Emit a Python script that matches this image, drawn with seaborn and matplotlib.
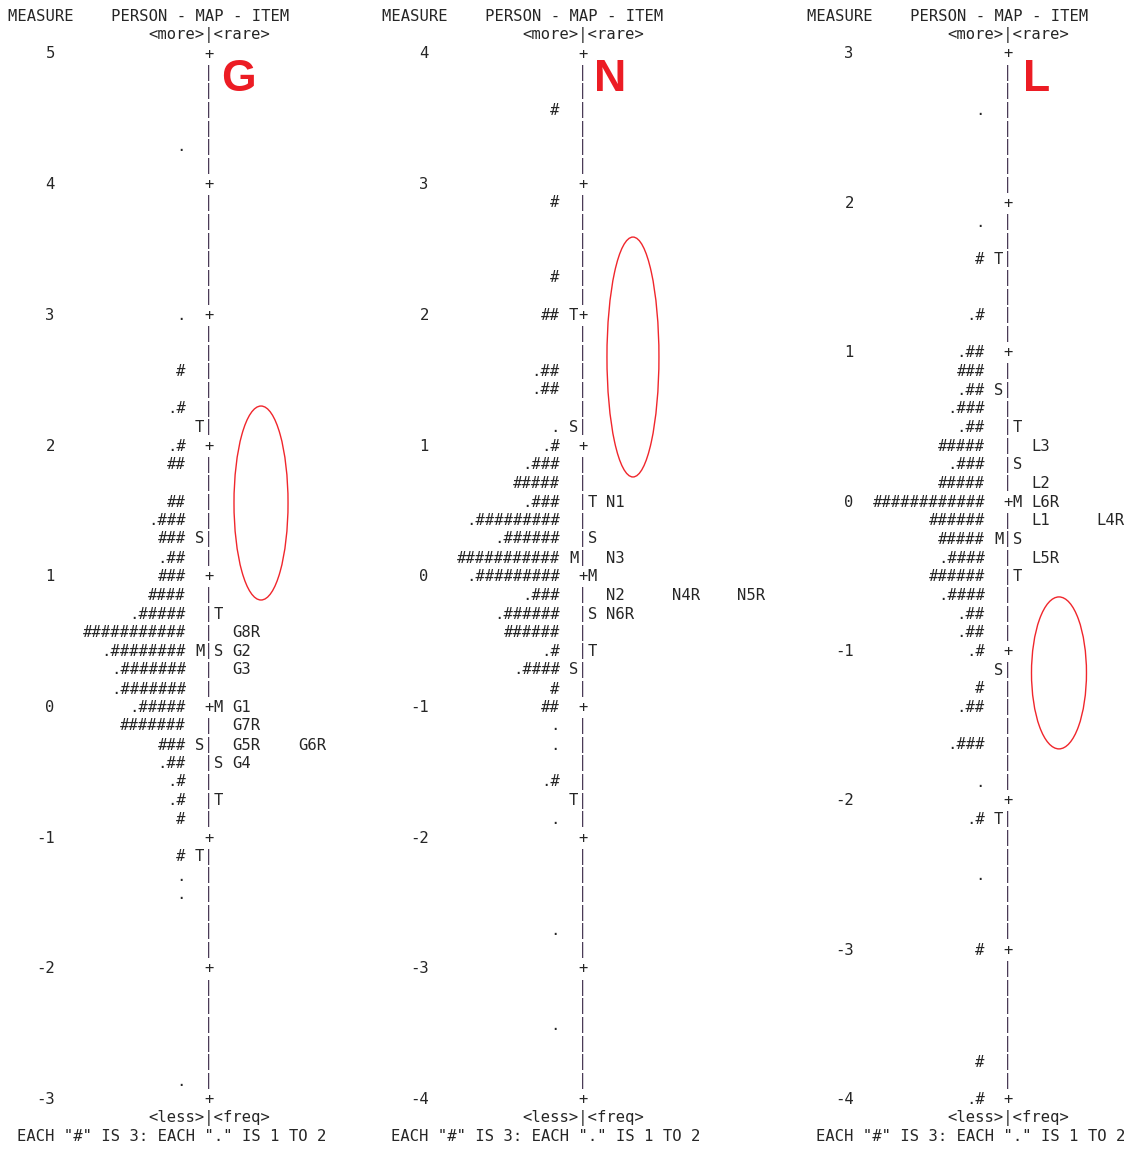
import numpy as np
import matplotlib
matplotlib.use("Agg")
import matplotlib.pyplot as plt
from matplotlib.patches import Ellipse
import seaborn as sns

# ---------------- data: person distributions and item locations ----------------
# Each person row: measure of the row, number of "#" (3 persons each), "." flag (1-2 persons)

# Panel G  (scale 5 .. -3, 7 rows per logit)
g_person_measure = [4.29, 3.00, 2.57, 2.29, 2.00, 1.86, 1.57, 1.43, 1.29, 1.14, 1.00, 0.86,
                    0.71, 0.57, 0.43, 0.29, 0.14, 0.00, -0.14, -0.29, -0.43, -0.57, -0.71,
                    -0.86, -1.14, -1.29, -1.43, -2.86]
g_person_hash = [0, 0, 1, 1, 1, 2, 2, 3, 3, 2, 3, 4, 5, 11, 8, 7, 7, 5, 7, 3, 2, 1, 1, 1, 1, 0, 0, 0]
g_person_dot = [1, 1, 0, 1, 1, 0, 0, 1, 0, 1, 0, 0, 1, 0, 1, 1, 1, 1, 0, 0, 1, 1, 1, 0, 0, 1, 1, 1]
g_person_mark_measure = [2.14, 1.29, 0.43, -0.29, -1.14]
g_item_mark_measure = [0.71, 0.43, 0.00, -0.43, -0.71]
g_items = ["G8R", "G2", "G3", "G1", "G7R", "G5R", "G6R", "G4"]
g_item_measure = [0.57, 0.43, 0.29, 0.00, -0.14, -0.29, -0.29, -0.43]

# Panel N  (scale 4 .. -4, 7 rows per logit)
n_person_measure = [3.57, 2.86, 2.29, 2.00, 1.57, 1.43, 1.14, 1.00, 0.86, 0.71, 0.57, 0.43,
                    0.29, 0.14, 0.00, -0.14, -0.29, -0.43, -0.57, -0.71, -0.86, -1.00, -1.14,
                    -1.29, -1.57, -1.86, -2.71, -3.43]
n_person_hash = [1, 1, 1, 2, 2, 2, 0, 1, 3, 5, 3, 9, 6, 11, 9, 3, 6, 6, 1, 4, 1, 2, 0, 0, 1, 0, 0, 0]
n_person_dot = [0, 0, 0, 0, 1, 1, 1, 1, 1, 0, 1, 1, 1, 0, 1, 1, 1, 0, 1, 1, 0, 0, 1, 1, 1, 1, 1, 1]
n_person_mark_measure = [2.00, 1.14, 0.14, -0.71, -1.71]
n_item_mark_measure = [0.57, 0.29, 0.00, -0.29, -0.57]
n_items = ["N1", "N3", "N2", "N4R", "N5R", "N6R"]
n_item_measure = [0.57, 0.14, -0.14, -0.14, -0.14, -0.29]

# Panel L  (scale 3 .. -4, 8 rows per logit)
l_person_measure = [2.625, 1.875, 1.625, 1.25, 1.0, 0.875, 0.75, 0.625, 0.5, 0.375, 0.25,
                    0.125, 0.0, -0.125, -0.25, -0.375, -0.5, -0.625, -0.75, -0.875, -1.0,
                    -1.25, -1.375, -1.625, -1.875, -2.125, -2.5, -3.0, -3.75, -4.0]
l_person_hash = [0, 0, 1, 1, 2, 3, 2, 3, 2, 5, 3, 5, 12, 6, 5, 4, 6, 4, 2, 2, 1, 1, 2, 3, 0, 1, 0, 1, 1, 1]
l_person_dot = [1, 1, 0, 1, 1, 0, 1, 1, 1, 0, 1, 0, 0, 0, 0, 1, 0, 1, 1, 1, 1, 0, 1, 1, 1, 1, 1, 0, 0, 1]
l_person_mark_measure = [1.625, 0.75, -0.25, -1.125, -2.125]
l_item_mark_measure = [0.5, 0.25, 0.0, -0.25, -0.5]
l_items = ["L3", "L2", "L6R", "L1", "L4R", "L5R"]
l_item_measure = [0.375, 0.125, 0.0, -0.125, -0.125, -0.375]

mark_labels = ["T", "S", "M", "S", "T"]
header_title = "MEASURE    PERSON - MAP - ITEM"
header_top = "<more>|<rare>"
footer_bottom = "<less>|<freq>"
footer_note = 'EACH "#" IS 3: EACH "." IS 1 TO 2'

# ---------------- layout ----------------
W_PX, H_PX = 1136, 1149
CHAR_W = 9.35          # monospace cell width in px
ROW_H = 18.67          # text row height in px
FIRST_ROW_PX = 54      # centre of the first scale row from the top
FS = 11.18             # DejaVu Sans Mono size giving CHAR_W advance
TEXT_C = "#262626"
BAR_C = "#4a3b57"
RED = "#ec1c24"

COL_LABEL_END = 4      # measure label right column
COL_PERSON_END = 18    # last person column
COL_PMARK = 20
COL_BAR = 21
COL_IMARK = 22
COL_ITEM = 24
ITEM_STEP = 7

panels = [
    dict(x0=8, width=374, top=5, bottom=-3, rpu=7,
         pm=g_person_measure, ph=g_person_hash, pd=g_person_dot,
         pmk=g_person_mark_measure, imk=g_item_mark_measure,
         items=g_items, im=g_item_measure,
         letter="G", letter_col=24.6, letter_row=1.34,
         ell=(27.06, 24.05, 5.78, 10.39)),
    dict(x0=382, width=425, top=4, bottom=-4, rpu=7,
         pm=n_person_measure, ph=n_person_hash, pd=n_person_dot,
         pmk=n_person_mark_measure, imk=n_item_mark_measure,
         items=n_items, im=n_item_measure,
         letter="N", letter_col=24.4, letter_row=1.34,
         ell=(26.84, 16.23, 5.56, 12.85)),
    dict(x0=807, width=329, top=3, bottom=-4, rpu=8,
         pm=l_person_measure, ph=l_person_hash, pd=l_person_dot,
         pmk=l_person_mark_measure, imk=l_item_mark_measure,
         items=l_items, im=l_item_measure,
         letter="L", letter_col=24.5, letter_row=1.34,
         ell=(26.95, 33.15, 5.88, 8.14)),
]

sns.set_theme(style="white")
plt.rcParams["font.family"] = ["DejaVu Sans Mono"]

fig = plt.figure(figsize=(W_PX / 100, H_PX / 100), dpi=100)
fig.patch.set_facecolor("white")


def put(ax, col, y, s, color=TEXT_C, **kw):
    ax.text(col, y, s, ha="left", va="center", fontsize=FS, color=color,
            family="DejaVu Sans Mono", **kw)


for p in panels:
    top, rpu = p["top"], p["rpu"]
    ax = fig.add_axes([p["x0"] / W_PX, 0, p["width"] / W_PX, 1])
    ax.set_xlim(0, p["width"] / CHAR_W)
    rows_above = FIRST_ROW_PX / ROW_H
    rows_below = (H_PX - FIRST_ROW_PX) / ROW_H
    ax.set_ylim(top - rows_below / rpu, top + rows_above / rpu)
    ax.set_axis_off()

    def row_y(k):
        return top - k / rpu

    n_rows = int(round((top - p["bottom"]) * rpu))

    # header / footer
    put(ax, 0, row_y(-2), header_title)
    put(ax, COL_BAR - 6, row_y(-1), header_top)
    put(ax, COL_BAR - 6, row_y(n_rows + 1), footer_bottom)
    put(ax, 1, row_y(n_rows + 2), footer_note)

    # vertical scale: "+" at whole logits, "|" between
    for k in range(n_rows + 1):
        y = row_y(k)
        if k % rpu == 0:
            put(ax, COL_BAR, y, "+")
            lab = f"{int(round(y))}"
            put(ax, COL_LABEL_END + 1 - len(lab), y, lab)
        else:
            put(ax, COL_BAR, y, "|", color=BAR_C)

    # person distribution
    for m, h, d in zip(p["pm"], p["ph"], p["pd"]):
        s = "." * d + "#" * h
        put(ax, COL_PERSON_END + 1 - len(s), m, s)

    # person and item M/S/T markers
    for m, lab in zip(p["pmk"], mark_labels):
        put(ax, COL_PMARK, m, lab)
    for m, lab in zip(p["imk"], mark_labels):
        put(ax, COL_IMARK, m, lab)

    # items; items sharing a row go to successive slots
    used = {}
    for name, m in zip(p["items"], p["im"]):
        key = round(m, 3)
        slot = used.get(key, 0)
        used[key] = slot + 1
        put(ax, COL_ITEM + slot * ITEM_STEP, m, name)

    # red annotations
    ax.text(p["letter_col"], row_y(p["letter_row"]), p["letter"], ha="center", va="center",
            fontsize=32, fontweight="bold", color=RED, family="Liberation Sans")
    cx, crow, w, hrows = p["ell"]
    ax.add_patch(Ellipse((cx, row_y(crow)), w, hrows / rpu, fill=False,
                         edgecolor="#f0262c", linewidth=1.0))

fig.savefig("out.png", dpi=100, facecolor="white")
